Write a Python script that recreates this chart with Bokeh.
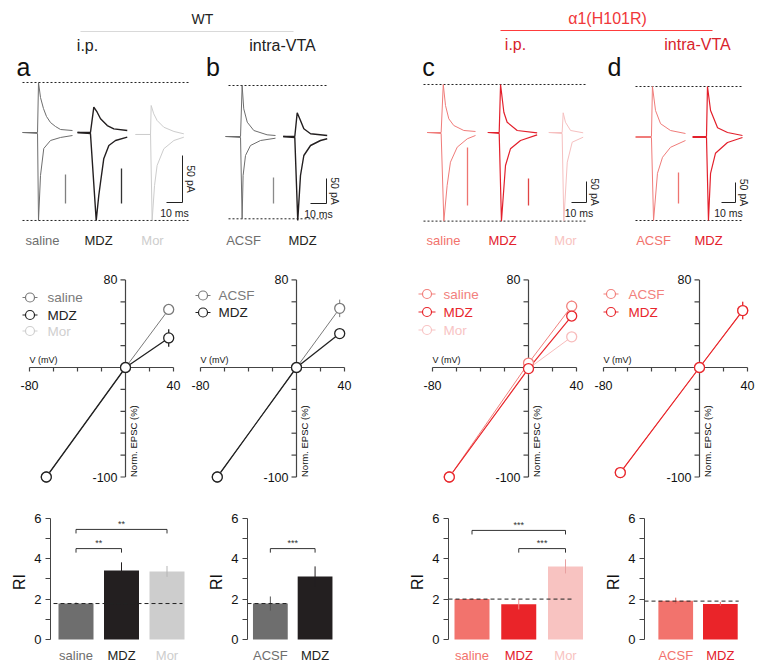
import math
from bokeh.plotting import figure
from bokeh.layouts import column, row
from bokeh.models import Range1d, FixedTicker
from bokeh.core.properties import value
from bokeh.embed import file_html
from bokeh.resources import INLINE

FONT = "Liberation Sans"

# ------------------------------------------------------------------ DATA
# EPSC sweeps: (time in ms from sweep start, current in pA from baseline)
a_saline_up = ([0, 9.4, 10, 11.25, 13.1, 15, 17.5, 20.6, 23.75, 31.25],
               [0, 0, 53.2, 37.2, 25.5, 17, 10.6, 6.4, 3.2, 2.1])
a_saline_dn = ([0, 9.4, 10, 11.25, 13.3, 17.5, 23.75, 31.25],
               [0, -1, -93.6, -45.7, -17, -8.5, -5.3, -3.2])
a_mdz_up = ([0, 8.1, 10.2, 12.3, 14.4, 18.6, 22.7, 31.1],
            [0, 0, 26.9, 21.6, 14.6, 7.4, 3.9, 2.1])
a_mdz_dn = ([0, 8.1, 11.7, 13.3, 14.4, 16.4, 19.6, 23.75, 31.1],
            [0, -1, -93.6, -67, -52.9, -28, -13.8, -8.5, -5])
a_mor_up = ([0, 9.4, 9.8, 11.4, 13.5, 17.7, 24, 30.2],
            [-2.1, -2.1, 28.7, 19.9, 12.8, 5.6, 1.1, -1.4])
a_mor_dn = ([0, 9.4, 10.4, 11.9, 13.5, 17.7, 24, 30.2],
            [-2.1, -2.1, -93.6, -56.4, -35.1, -17.3, -8.5, -5])
b_acsf_up = ([0, 9.4, 10.4, 11.4, 13.6, 17.7, 26, 31.25],
             [0, 0, 102, 55.4, 28.6, 12, 3.4, 2])
b_acsf_dn = ([0, 9.4, 10.4, 11, 12.5, 15.6, 21.9, 31.25],
             [0, -2, -164.6, -78, -38, -18, -8, -3.4])
b_mdz_up = ([0, 7.25, 8.75, 10.8, 12.9, 17.1, 27.5],
            [0, 0, 47.4, 32, 15.4, 5.4, 2])
b_mdz_dn = ([0, 7.25, 9.1, 10.8, 12.9, 17.1, 23.3, 27.5],
            [0, -2, -168, -78, -38, -18, -8, -4.6])
c_saline_up = ([0, 9.3, 10.7, 12.2, 14.4, 17.7, 24.4, 32.2],
               [0, 0, 114.3, 64.3, 32.6, 16.7, 4.8, 2.4])
c_saline_dn = ([0, 9.3, 11.1, 13.3, 15.5, 20, 26.7, 32.2],
               [0, -2.4, -211, -126, -70.7, -35, -15, -7.1])
c_mdz_up = ([0, 7.6, 8.5, 10.7, 12.9, 19.6, 32.9],
            [0, 0, 114.3, 48.3, 24.5, 4.8, -0.7])
c_mdz_dn = ([0, 7.6, 9.1, 11.8, 15.1, 21.8, 32.9],
            [0, -2.4, -211, -78.6, -38.8, -19, -5.5])
c_mor_up = ([0, 8.9, 9.6, 11.1, 14.5, 22.9],
            [0, 0, 46.9, 24.5, 4.8, -0.7])
c_mor_dn = ([0, 8.9, 10, 12.3, 15.6, 22.9],
            [0, -2.4, -211, -70.7, -23.1, -11.2])
d_acsf_up = ([0, 11.4, 12.1, 14.3, 17.9, 25, 35.7],
             [0, 0, 125, 65, 32, 15, 7.5])
d_acsf_dn = ([0, 11.4, 12.9, 15.7, 19.3, 25, 35.7],
             [-2.5, -2.5, -210, -92, -52, -27, -10])
d_mdz_up = ([0, 10, 10.7, 12.9, 17.9, 25, 35.7],
            [0, 0, 125, 65, 22, 10, 2.5])
d_mdz_dn = ([0, 10, 11.4, 12.9, 16.4, 25, 35.7],
            [-2.5, -2.5, -210, -92, -42, -15, -2.5])
SCALE_MS = 10
SCALE_PA = 50

# I-V relations (holding potential in mV, normalised EPSC in %)
iv_v = [-66, 0, 36]
a_iv_saline, a_iv_saline_err = [-100, 0, 53], [0, 0, 2]
a_iv_mdz, a_iv_mdz_err = [-100, 0, 27], [0, 0, 8]
b_iv_acsf, b_iv_acsf_err = [-100, 0, 54], [0, 0, 8]
b_iv_mdz, b_iv_mdz_err = [-100, 0, 31], [0, 0, 2]
c_iv_saline, c_iv_saline_err = [-100, 4, 56], [0, 0, 5]
c_iv_mdz, c_iv_mdz_err = [-100, -1, 47], [0, 0, 3]
c_iv_mor, c_iv_mor_err = [-100, -1, 28], [0, 0, 3]
d_iv_acsf, d_iv_acsf_err = [-96, 0, 52], [0, 0, 8]
d_iv_mdz, d_iv_mdz_err = [-96, 0, 52], [0, 0, 8]
IV_X_TICKS = [-80, -60, -40, -20, 0, 20, 40]
IV_Y_TICKS = [-100, -80, -60, -40, -20, 0, 20, 40, 60, 80]

# Rectification index
ip_cats = ["saline", "MDZ", "Mor"]
vta_cats = ["ACSF", "MDZ"]
a_ri, a_ri_err = [1.78, 3.42, 3.37], [0.05, 0.40, 0.27]
b_ri, b_ri_err = [1.78, 3.12], [0.35, 0.50]
c_ri, c_ri_err = [2.00, 1.74, 3.62], [0.03, 0.25, 0.35]
d_ri, d_ri_err = [1.92, 1.76], [0.15, 0.10]
a_sig = [(0, 2, 5.45, "**"), (0, 1, 4.5, "**")]
b_sig = [(0, 1, 4.5, "***")]
c_sig = [(0, 2, 5.4, "***"), (1, 2, 4.5, "***")]
d_sig = []
RI_TICKS = [0, 2, 4, 6]
RI_MINOR = [1, 3, 5]

# ------------------------------------------------------------------ STYLE
G_SAL, G_MDZ, G_MOR = "#6e6e6e", "#231f20", "#cdcdcd"
R_SAL, R_MDZ, R_MOR = "#f2736d", "#ea2429", "#f8c3c1"
AXC = "#444444"
PAGE_W = 761


def base_fig(w, h, xr, yr, left=0, yaxis=None):
    p = figure(width=w, height=h, x_range=Range1d(*xr), y_range=Range1d(*yr),
               output_backend="svg", toolbar_location=None,
               x_axis_location=None, y_axis_location=yaxis,
               min_border_left=left, min_border_right=0,
               min_border_top=0, min_border_bottom=0)
    p.grid.visible = False
    p.outline_line_color = None
    return p


def txt(p, x, y, s, size, color, align="center", baseline="middle", angle=0):
    p.text(x=[x], y=[y], text=[s], text_font=value(FONT),
           text_font_size=value(f"{size}px"), text_color=color,
           text_align=align, text_baseline=baseline, angle=angle)


# ------------------------------------------------------------------ HEADER
hdr = base_fig(PAGE_W, 79, (0, PAGE_W), (79, 0))
txt(hdr, 202, 18, "WT", 14, "#222")
hdr.segment(x0=[80], y0=[31], x1=[293], y1=[31], line_color="#d9d9d9", line_width=1)
txt(hdr, 87, 45, "i.p.", 16, "#222")
txt(hdr, 282, 45, "intra-VTA", 16, "#222")
txt(hdr, 607, 18, "α1(H101R)", 16, "#f0373a")
hdr.segment(x0=[500], y0=[30], x1=[712], y1=[30], line_color="#ff3c3c", line_width=1.2)
txt(hdr, 515, 44, "i.p.", 16, "#d8242c")
txt(hdr, 697, 44, "intra-VTA", 16, "#d8242c")
for lx, letter in [(23, "a"), (212.5, "b"), (428, "c"), (614, "d")]:
    txt(hdr, lx, 66, letter, 25, "#111")


# ------------------------------------------------------------------ TRACES
def trace_panel(left, right, base, xs, ys, sweeps, marks, corner, labels, dots):
    fx = lambda xi: (xi - left) / xs
    fy = lambda yi: (base - yi) / ys
    p = base_fig(right - left, 173, (0, (right - left) / xs), (fy(252), fy(79)))
    top, bot = max(sweeps[0][1][1]), min(sweeps[0][2][1])
    x0, x1 = fx(dots[0]), fx(dots[1])
    p.segment(x0=[x0, x0], y0=[top, bot], x1=[x1, x1], y1=[top, bot],
              line_color="#222", line_dash="2 2", line_width=1)
    for start_px, up, dn, col, lw in sweeps:
        off = fx(start_px)
        p.line([off + t for t in up[0]], up[1], line_color=col, line_width=lw)
        p.line([off + t for t in dn[0]], dn[1], line_color=col, line_width=lw)
    for xm, y0m, y1m, col in marks:
        p.segment(x0=[fx(xm)], y0=[fy(y0m)], x1=[fx(xm)], y1=[fy(y1m)],
                  line_color=col, line_width=1.3)
    cx, cy = corner
    X, Y = fx(cx), fy(cy)
    p.segment(x0=[X, X], y0=[Y, Y], x1=[X, X - SCALE_MS], y1=[Y + SCALE_PA, Y],
              line_color="#222", line_width=1)
    txt(p, fx(cx + 8), Y + SCALE_PA / 2, f"{SCALE_PA} pA", 10.5, "#222", angle=-math.pi / 2)
    txt(p, X - SCALE_MS / 2, fy(cy + 10), f"{SCALE_MS} ms", 10.5, "#222")
    for xl, s, col in labels:
        txt(p, fx(xl), fy(240), s, 13, col)
    return p


tr_a = trace_panel(0, 205, 132, 1.6, 0.94,
                   [(22, a_saline_up, a_saline_dn, G_SAL, 1),
                    (77, a_mdz_up, a_mdz_dn, G_MDZ, 1.4),
                    (135, a_mor_up, a_mor_dn, G_MOR, 1)],
                   [(65, 174, 203, "#808080"), (121, 168, 203, "#333")],
                   (182, 202),
                   [(42, ip_cats[0], G_SAL), (98, ip_cats[1], G_MDZ), (152, ip_cats[2], G_MOR)],
                   (22, 188))
tr_b = trace_panel(205, 405, 136, 1.6, 0.5,
                   [(225, b_acsf_up, b_acsf_dn, G_SAL, 1),
                    (282.7, b_mdz_up, b_mdz_dn, G_MDZ, 1.4)],
                   [(273, 177, 203, "#8a8a8a")],
                   (326, 203),
                   [(243, vta_cats[0], G_SAL), (302, vta_cats[1], G_MDZ)],
                   (228, 328))
tr_c = trace_panel(405, 602, 132, 1.5, 0.42,
                   [(426.7, c_saline_up, c_saline_dn, "#f07c7a", 1),
                    (487.3, c_mdz_up, c_mdz_dn, "#e3202c", 1.2),
                    (548.3, c_mor_up, c_mor_dn, "#f6c0c0", 1)],
                   [(467, 147, 205, "#ee7470"), (528, 178, 205, "#e04444")],
                   (586, 202),
                   [(443, ip_cats[0], R_SAL), (502, ip_cats[1], "#e3202c"), (565, ip_cats[2], R_MOR)],
                   (423, 587))
tr_d = trace_panel(602, PAGE_W, 136, 1.4, 0.4,
                   [(635, d_acsf_up, d_acsf_dn, "#f07c7a", 1),
                    (692, d_mdz_up, d_mdz_dn, "#e3202c", 1.2)],
                   [(678, 172, 203, "#ee7470")],
                   (735, 202),
                   [(653, vta_cats[0], R_SAL), (708, vta_cats[1], "#e3202c")],
                   (635, 743))


# ------------------------------------------------------------------ I-V
def iv_panel(left, right, ax, series):
    fx = lambda xi: (xi - ax) / 1.2
    fy = lambda yi: (367 - yi) / 1.095
    p = base_fig(right - left, 243, (fx(left), fx(right)), (fy(495), fy(252)))
    p.segment(x0=[IV_X_TICKS[0], 0], y0=[0, IV_Y_TICKS[0]], x1=[IV_X_TICKS[-1], 0],
              y1=[0, IV_Y_TICKS[-1]], line_color=AXC, line_width=1.2)
    p.segment(x0=IV_X_TICKS, y0=[0] * len(IV_X_TICKS), x1=IV_X_TICKS,
              y1=[-4 / 1.095] * len(IV_X_TICKS), line_color=AXC, line_width=1.2)
    p.segment(x0=[0] * len(IV_Y_TICKS), y0=IV_Y_TICKS, x1=[-5 / 1.2] * len(IV_Y_TICKS),
              y1=IV_Y_TICKS, line_color=AXC, line_width=1.2)
    txt(p, -8 / 1.2, IV_Y_TICKS[-1], str(IV_Y_TICKS[-1]), 12.5, "#111", align="right")
    txt(p, -8 / 1.2, IV_Y_TICKS[0], str(IV_Y_TICKS[0]), 12.5, "#111", align="right")
    txt(p, IV_X_TICKS[0], -18 / 1.095, str(IV_X_TICKS[0]), 12.5, "#111")
    txt(p, IV_X_TICKS[-1], -18 / 1.095, str(IV_X_TICKS[-1]), 12.5, "#111")
    txt(p, IV_X_TICKS[0], 3 / 1.095, "V (mV)", 9, "#111", align="left", baseline="bottom")
    txt(p, 7.5 / 1.2, IV_Y_TICKS[0], "Norm. EPSC (%)", 9.5, "#111", align="left",
        angle=math.pi / 2)
    for name, vals, errs, col, lw in series:
        p.line(iv_v, vals, line_color=col, line_width=lw)
        p.segment(x0=iv_v, y0=[v - e for v, e in zip(vals, errs)], x1=iv_v,
                  y1=[v + e for v, e in zip(vals, errs)], line_color=col, line_width=lw)
    for name, vals, errs, col, lw in series:
        p.scatter(iv_v, vals, marker="circle", size=10, fill_color="white",
                  line_color=col, line_width=1.3)
    return p, fx, fy


def iv_legend(p, fx, fy, entries, sym_x, txt_x, ys):
    for (name, col), ly in zip(entries, ys):
        p.segment(x0=[fx(sym_x[0])], y0=[fy(ly)], x1=[fx(sym_x[1])], y1=[fy(ly)],
                  line_color=col, line_width=1.2)
        p.scatter([fx((sym_x[0] + sym_x[1]) / 2)], [fy(ly)], marker="circle", size=9,
                  fill_color="white", line_color=col, line_width=1.2)
        txt(p, fx(txt_x), fy(ly), name, 13.5, col, align="left")


iv_a, fxa, fya = iv_panel(0, 186, 125,
                          [("saline", a_iv_saline, a_iv_saline_err, "#7a7a7a", 1),
                           ("MDZ", a_iv_mdz, a_iv_mdz_err, "#222", 1.3)])
iv_legend(iv_a, fxa, fya, [(ip_cats[0], "#7a7a7a"), (ip_cats[1], "#222"), (ip_cats[2], "#cfcfcf")],
          (22, 37), 47, [297, 314.5, 330.5])
iv_b, fxb, fyb = iv_panel(186, 400, 296,
                          [("ACSF", b_iv_acsf, b_iv_acsf_err, "#7a7a7a", 1),
                           ("MDZ", b_iv_mdz, b_iv_mdz_err, "#222", 1.3)])
iv_legend(iv_b, fxb, fyb, [(vta_cats[0], "#7a7a7a"), (vta_cats[1], "#222")],
          (195, 210), 218, [295, 312])
iv_c, fxc, fyc = iv_panel(400, 588, 528,
                          [("Mor", c_iv_mor, c_iv_mor_err, "#f8bcbc", 1),
                           ("saline", c_iv_saline, c_iv_saline_err, "#f2817d", 1),
                           ("MDZ", c_iv_mdz, c_iv_mdz_err, "#e8262c", 1.2)])
iv_legend(iv_c, fxc, fyc, [(ip_cats[0], "#f2817d"), (ip_cats[1], "#e8262c"), (ip_cats[2], "#f8c4c4")],
          (418, 435), 443, [293.5, 311.5, 329.5])
iv_d, fxd, fyd = iv_panel(588, PAGE_W, 699,
                          [("ACSF", d_iv_acsf, d_iv_acsf_err, "#f2817d", 1),
                           ("MDZ", d_iv_mdz, d_iv_mdz_err, "#e8262c", 1.2)])
iv_legend(iv_d, fxd, fyd, [(vta_cats[0], "#f2817d"), (vta_cats[1], "#e8262c")],
          (603, 618), 628, [293.5, 311.5])


# ------------------------------------------------------------------ BARS
def bar_panel(left, right, ax, c0, sp, cats, vals, errs, cols, ecols, lcols, ref, dash, sig):
    fx = lambda xi: (xi - c0) / sp
    fy = lambda yi: (639 - yi) / 20.2
    p = base_fig(right - left, 173, (fx(ax), fx(right)), (fy(668), fy(495)),
                 left=ax - left, yaxis="left")
    ya = p.yaxis[0]
    ya.ticker = FixedTicker(ticks=RI_TICKS, minor_ticks=RI_MINOR)
    ya.bounds = (RI_TICKS[0], RI_TICKS[-1])
    ya.axis_line_color = AXC
    ya.major_tick_line_color = AXC
    ya.minor_tick_line_color = AXC
    ya.major_tick_out = 5
    ya.major_tick_in = 0
    ya.minor_tick_out = 5
    ya.minor_tick_in = 0
    ya.major_label_standoff = 4
    ya.major_label_text_font = FONT
    ya.major_label_text_font_size = "13px"
    ya.major_label_text_color = "#111"
    ya.axis_label = "RI"
    ya.axis_label_standoff = 3
    ya.axis_label_text_font = FONT
    ya.axis_label_text_font_size = "16px"
    ya.axis_label_text_font_style = "normal"
    ya.axis_label_text_color = "#111"
    idx = list(range(len(cats)))
    p.vbar(x=idx, top=vals, bottom=0, width=35 / sp, fill_color=cols, line_color=None)
    p.segment(x0=idx, y0=[v - e for v, e in zip(vals, errs)], x1=idx,
              y1=[v + e for v, e in zip(vals, errs)], line_color=ecols, line_width=1)
    p.segment(x0=[fx(dash[0])], y0=[ref], x1=[fx(dash[1])], y1=[ref],
              line_color="#222", line_dash="4 3", line_width=1)
    for i, j, yb, stars in sig:
        p.segment(x0=[i, i, j], y0=[yb, yb, yb], x1=[j, i, j], y1=[yb, yb - 0.2, yb - 0.2],
                  line_color="#333", line_width=1)
        txt(p, (i + j) / 2, yb + 0.02, stars, 9, "#333", baseline="bottom")
    for i, (c, lc) in enumerate(zip(cats, lcols)):
        txt(p, i, fy(655), c, 13, lc)
    return p


bar_a = bar_panel(0, 205, 50, 75.5, 45.5, ip_cats, a_ri, a_ri_err,
                  [G_SAL, G_MDZ, G_MOR], ["#555", G_MDZ, "#b5b5b5"],
                  [G_SAL, G_MDZ, G_MOR], a_ri[0], (53, 182), a_sig)
bar_b = bar_panel(205, 405, 246, 269, 45, vta_cats, b_ri, b_ri_err,
                  [G_SAL, G_MDZ], ["#555", G_MDZ], [G_SAL, G_MDZ], b_ri[0], (246, 286), b_sig)
bar_c = bar_panel(405, 602, 448, 471.5, 46.75, ip_cats, c_ri, c_ri_err,
                  [R_SAL, R_MDZ, R_MOR], ["#e05a55", "#f08a88", "#e8a0a0"],
                  [R_SAL, "#e3202c", R_MOR], c_ri[0], (448, 572), c_sig)
bar_d = bar_panel(602, PAGE_W, 643, 674.5, 45, vta_cats, d_ri, d_ri_err,
                  [R_SAL, R_MDZ], ["#e0605a", "#e86a66"], [R_SAL, "#e3202c"], 1.9, (643, 738), d_sig)

layout = column(hdr,
                row(tr_a, tr_b, tr_c, tr_d),
                row(iv_a, iv_b, iv_c, iv_d),
                row(bar_a, bar_b, bar_c, bar_d))

open("out.html", "w").write(file_html(layout, INLINE))
